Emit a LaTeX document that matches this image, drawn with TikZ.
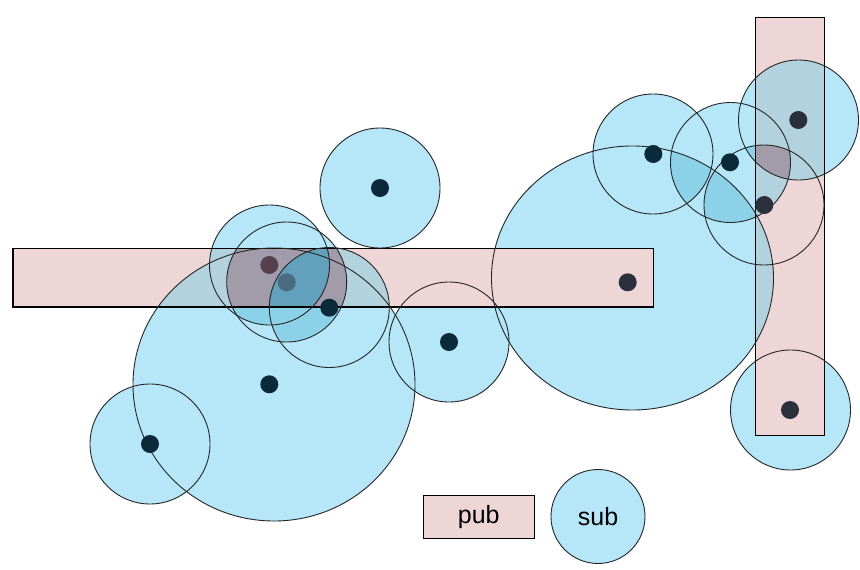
\documentclass[tikz,border=0pt]{standalone}
\usepackage{fontspec}
\setmainfont{Liberation Sans}

\definecolor{pubpink}{RGB}{238,214,214}
\definecolor{subblue}{RGB}{181,231,248}
\definecolor{lensblue}{RGB}{139,210,232}
\definecolor{overblue}{RGB}{178,210,221}
\definecolor{pairgray}{RGB}{161,155,170}
\definecolor{triplesteel}{RGB}{98,160,188}
\definecolor{dotsub}{RGB}{10,42,58}
\definecolor{dotpub}{RGB}{43,48,61}
\definecolor{dotmixA}{RGB}{85,64,80}
\definecolor{dotmixB}{RGB}{75,107,128}

\begin{document}
\begin{tikzpicture}[
        x=1pt, y=-1pt,
        subfill/.style={fill=subblue},
        lensfill/.style={fill=lensblue},
        overfill/.style={fill=overblue},
        pairfill/.style={fill=pairgray},
        triplefill/.style={fill=triplesteel},
        pubfill/.style={fill=pubpink},
        subline/.style={draw=black!85, line width=0.9pt},
        publine/.style={draw=black, line width=1.3pt},
        dotnode/.style={circle, minimum size=18pt, inner sep=0pt, fill=dotsub},
        pubdot/.style={dotnode, fill=dotpub},
        legendfont/.style={font=\fontsize{25}{30}\selectfont}
        ]
        \useasboundingbox (0,0) rectangle (860,570);

        % corners of the pub rectangles
        \coordinate (pubH1) at (13,248.5);
        \coordinate (pubH2) at (653.5,307);
        \coordinate (pubV1) at (755.5,17.5);
        \coordinate (pubV2) at (824.5,435.5);

        % centres of the sub circles
        \coordinate (sub1) at (274,384.5);
        \coordinate (sub2) at (150,444);
        \coordinate (sub3) at (380,188);
        \coordinate (sub4) at (269.5,265);
        \coordinate (sub5) at (286.7,282);
        \coordinate (sub6) at (329.3,307.5);
        \coordinate (sub7) at (449,342);
        \coordinate (sub8) at (632.5,278);
        \coordinate (sub9) at (653,154);
        \coordinate (sub10) at (730.5,162.5);
        \coordinate (sub11) at (798.5,120);
        \coordinate (sub12) at (764,205);
        \coordinate (sub13) at (790.5,410);

        % sub areas
        \fill[subfill] (sub1) ellipse[x radius=141pt, y radius=136.5pt];
        \fill[subfill] (sub8) ellipse[x radius=141pt, y radius=132pt];
        \fill[subfill] (sub2) circle[radius=60pt] (sub3) circle[radius=60pt]
                       (sub4) circle[radius=60pt] (sub5) circle[radius=60pt]
                       (sub6) circle[radius=60pt] (sub7) circle[radius=60pt]
                       (sub9) circle[radius=60pt] (sub10) circle[radius=60pt]
                       (sub11) circle[radius=60pt] (sub12) circle[radius=60pt]
                       (sub13) circle[radius=60pt];

        % where three sub areas meet
        \begin{scope}
          \clip (sub1) ellipse[x radius=141pt, y radius=136.5pt];
          \clip (sub5) circle[radius=60pt];
          \fill[lensfill] (sub4) circle[radius=60pt] (sub6) circle[radius=60pt];
        \end{scope}
        \begin{scope}
          \clip (sub1) ellipse[x radius=141pt, y radius=136.5pt];
          \clip (sub4) circle[radius=60pt];
          \fill[lensfill] (sub6) circle[radius=60pt];
        \end{scope}
        \begin{scope}
          \clip (sub8) ellipse[x radius=141pt, y radius=132pt];
          \clip (sub10) circle[radius=60pt];
          \fill[lensfill] (sub9) circle[radius=60pt] (sub12) circle[radius=60pt];
        \end{scope}
        \begin{scope}
          \clip (sub10) circle[radius=60pt];
          \clip (sub11) circle[radius=60pt];
          \fill[lensfill] (sub12) circle[radius=60pt];
        \end{scope}

        % pub rectangles
        \fill[pubfill] (pubH1) rectangle (pubH2);
        \fill[pubfill] (pubV1) rectangle (pubV2);

        % sub areas lying over the pub rectangles
        \begin{scope}
          \clip (pubH1) rectangle (pubH2);
          \fill[overfill] (sub1) ellipse[x radius=141pt, y radius=136.5pt]
                          (sub4) circle[radius=60pt] (sub5) circle[radius=60pt]
                          (sub6) circle[radius=60pt];
          \begin{scope}
            \clip (sub5) circle[radius=60pt];
            \fill[pairfill] (sub4) circle[radius=60pt] (sub6) circle[radius=60pt];
          \end{scope}
          \begin{scope}
            \clip (sub4) circle[radius=60pt];
            \clip (sub5) circle[radius=60pt];
            \fill[triplefill] (sub6) circle[radius=60pt];
          \end{scope}
        \end{scope}
        \begin{scope}
          \clip (pubV1) rectangle (pubV2);
          \fill[overfill] (sub8) ellipse[x radius=141pt, y radius=132pt]
                          (sub10) circle[radius=60pt] (sub11) circle[radius=60pt];
          \clip (sub10) circle[radius=60pt];
          \clip (sub11) circle[radius=60pt];
          \fill[pairfill] (sub12) circle[radius=60pt];
        \end{scope}

        % outlines on top
        \draw[publine] (pubV1) rectangle (pubV2);
        \draw[publine] (pubH1) rectangle (pubH2);
        \draw[subline] (sub1) ellipse[x radius=141pt, y radius=136.5pt];
        \draw[subline] (sub8) ellipse[x radius=141pt, y radius=132pt];
        \draw[subline] (sub2) circle[radius=60pt];
        \draw[subline] (sub3) circle[radius=60pt];
        \draw[subline] (sub4) circle[radius=60pt];
        \draw[subline] (sub5) circle[radius=60pt];
        \draw[subline] (sub6) circle[radius=60pt];
        \draw[subline] (sub7) circle[radius=60pt];
        \draw[subline] (sub9) circle[radius=60pt];
        \draw[subline] (sub10) circle[radius=60pt];
        \draw[subline] (sub11) circle[radius=60pt];
        \draw[subline] (sub12) circle[radius=60pt];
        \draw[subline] (sub13) circle[radius=60pt];

        % dots
        \node[dotnode] (dot1) at (269.3,384.3) {};
        \node[dotnode] (dot2) at (150,444) {};
        \node[dotnode] (dot3) at (380,188) {};
        \node[dotnode, fill=dotmixA] (dot4) at (269.3,265) {};
        \node[dotnode, fill=dotmixB] (dot5) at (286.7,282.3) {};
        \node[dotnode] (dot6) at (329.3,307.7) {};
        \node[dotnode] (dot7) at (449,342) {};
        \node[pubdot] (dot8) at (627.7,282.3) {};
        \node[dotnode] (dot9) at (653.3,154) {};
        \node[dotnode] (dot10) at (730,162.3) {};
        \node[pubdot] (dot11) at (798.3,120) {};
        \node[pubdot] (dot12) at (764.3,205) {};
        \node[pubdot] (dot13) at (790,410) {};

        % legend
        \node[pubfill, publine, minimum width=111pt, minimum height=43pt, inner sep=0pt, legendfont] (publegend) at (478.8,516.7) {pub};
        \node[circle, subfill, subline, minimum size=94pt, inner sep=0pt, legendfont] (sublegend) at (598,516.5) {sub};
\end{tikzpicture}
\end{document}
